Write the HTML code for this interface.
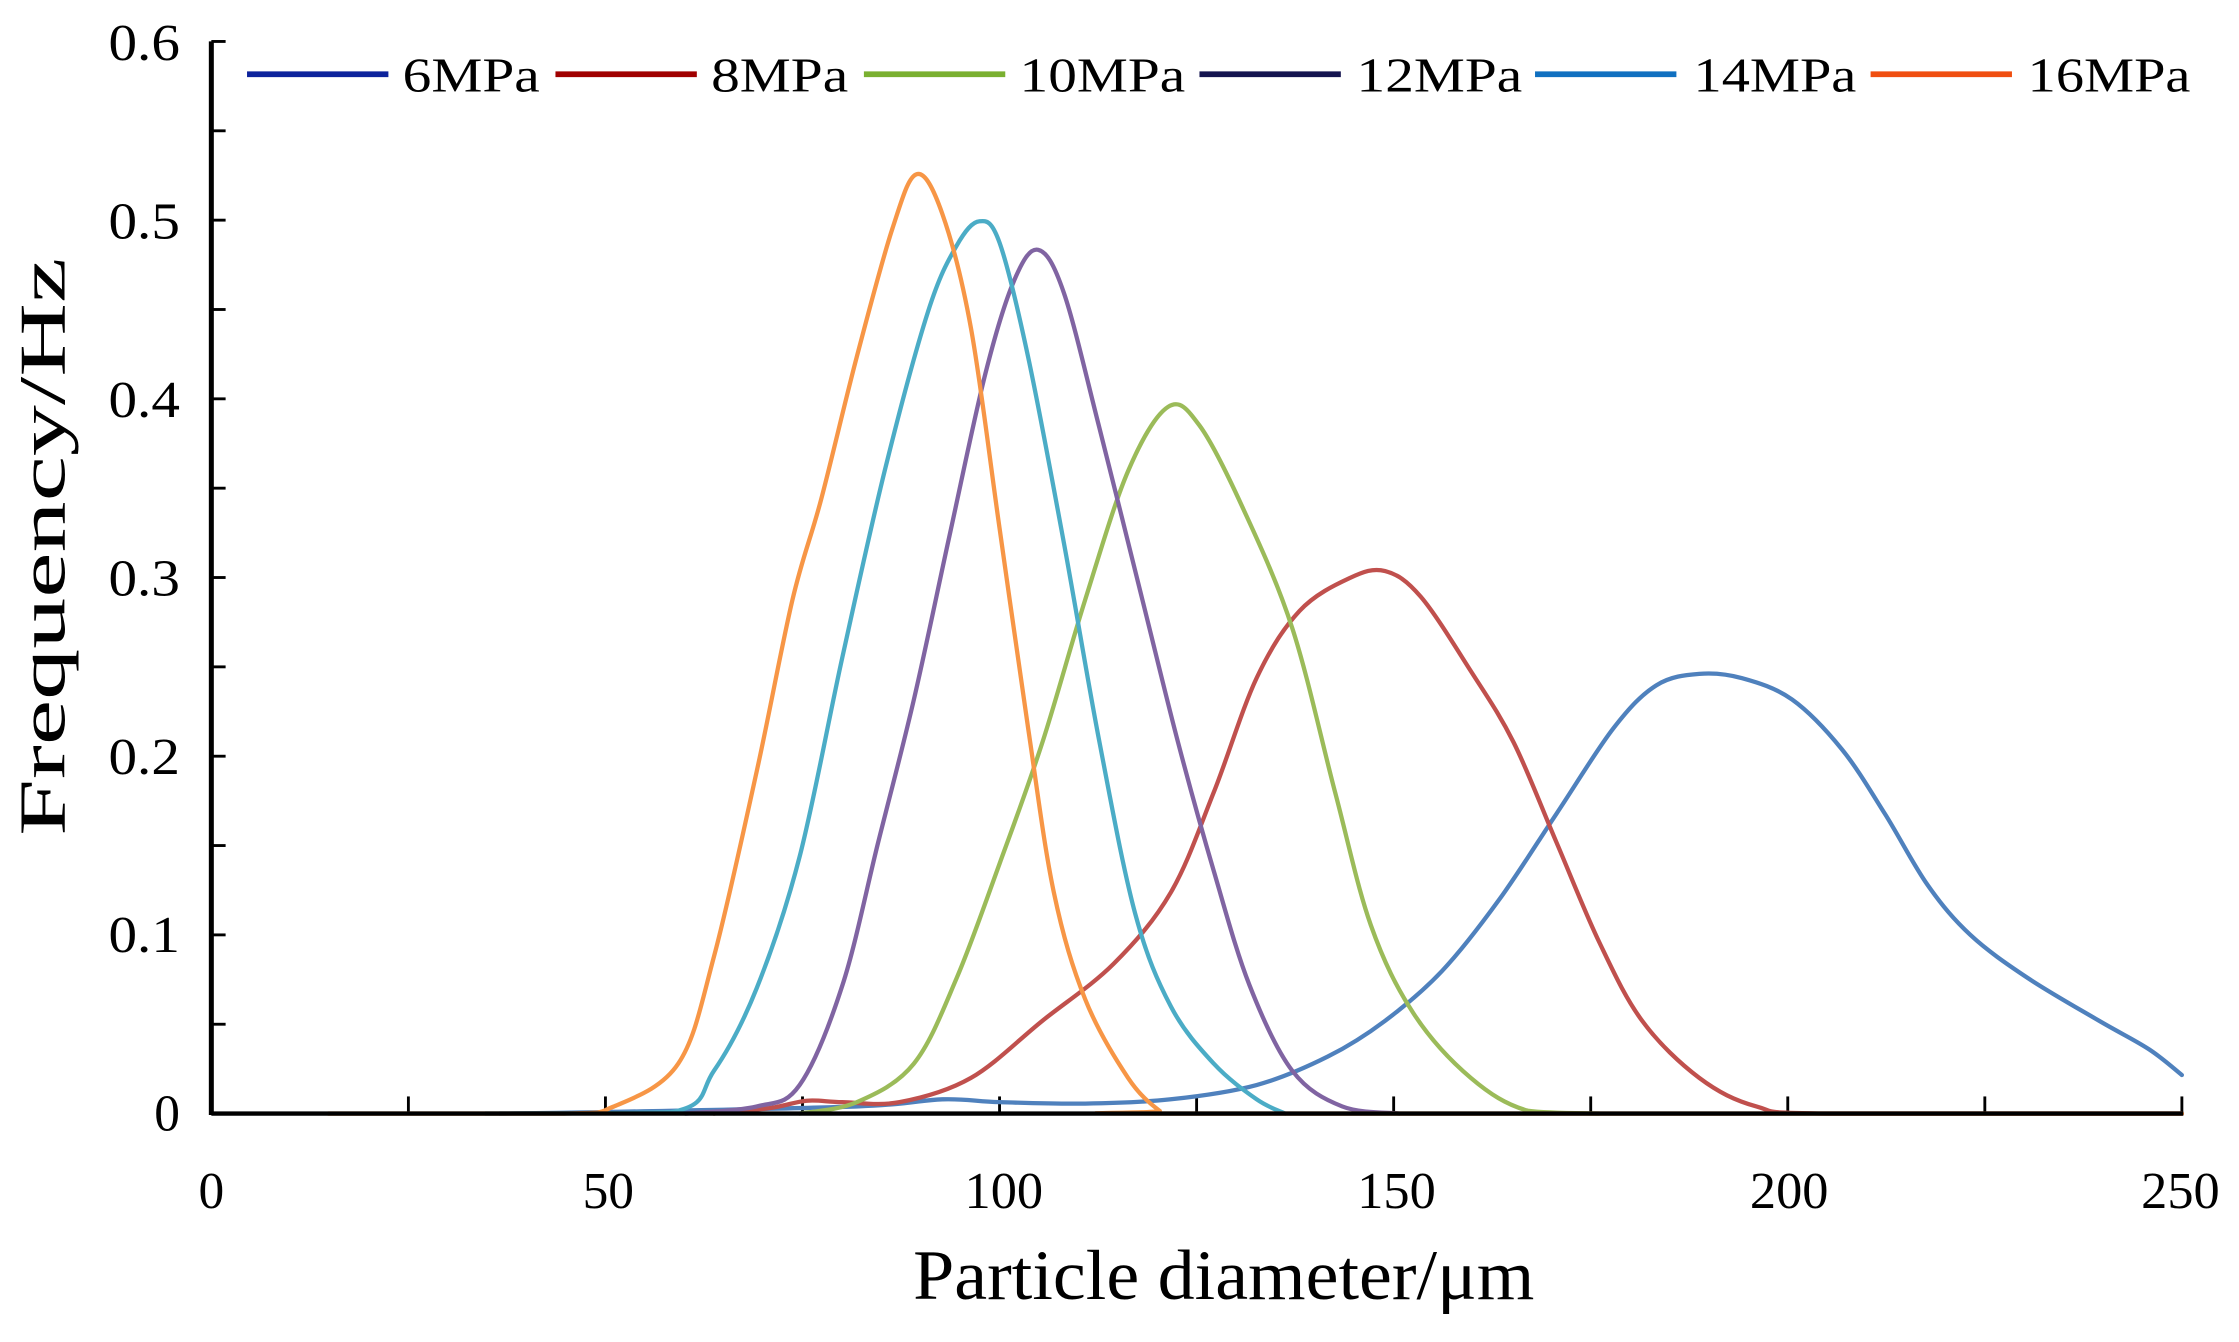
<!DOCTYPE html>
<html><head><meta charset="utf-8"><style>
html,body{margin:0;padding:0;background:#fff;}
svg{display:block;}
text{font-family:"Liberation Serif",serif;fill:#000;}
</style></head><body>
<svg id="s" width="2239" height="1342" viewBox="0 0 1568 940" preserveAspectRatio="none" xmlns="http://www.w3.org/2000/svg">
<g id="ticks" stroke="#000" stroke-width="2"></g>
<g id="curves" fill="none" stroke-width="3" stroke-linejoin="round" stroke-linecap="round"></g>
<line x1="148" y1="780" x2="1529" y2="780" stroke="#000" stroke-width="3"/>
<line x1="148" y1="29" x2="148" y2="781" stroke="#000" stroke-width="3.5"/>
<g font-size="36" text-anchor="end">
<text x="126" y="792">0</text>
<text x="126" y="667" textLength="50" lengthAdjust="spacingAndGlyphs">0.1</text>
<text x="126" y="542" textLength="50" lengthAdjust="spacingAndGlyphs">0.2</text>
<text x="126" y="417" textLength="50" lengthAdjust="spacingAndGlyphs">0.3</text>
<text x="126" y="292" textLength="50" lengthAdjust="spacingAndGlyphs">0.4</text>
<text x="126" y="167" textLength="50" lengthAdjust="spacingAndGlyphs">0.5</text>
<text x="126" y="42" textLength="50" lengthAdjust="spacingAndGlyphs">0.6</text>
</g>
<g font-size="36" text-anchor="middle">
<text x="148" y="846">0</text>
<text x="426" y="846" textLength="36" lengthAdjust="spacingAndGlyphs">50</text>
<text x="703" y="846" textLength="55" lengthAdjust="spacingAndGlyphs">100</text>
<text x="978" y="846" textLength="55" lengthAdjust="spacingAndGlyphs">150</text>
<text x="1253" y="846" textLength="55" lengthAdjust="spacingAndGlyphs">200</text>
<text x="1527" y="846" textLength="55" lengthAdjust="spacingAndGlyphs">250</text>
</g>
<text x="857" y="910" font-size="50" text-anchor="middle" textLength="435" lengthAdjust="spacingAndGlyphs">Particle diameter/μm</text>
<text transform="translate(45,383) rotate(-90)" font-size="46" text-anchor="middle" textLength="405" lengthAdjust="spacingAndGlyphs">Frequency/Hz</text>
<g font-size="34" stroke-width="4">
<line x1="173" y1="52" x2="272" y2="52" stroke="#0d239c"/><text x="282" y="64" textLength="96" lengthAdjust="spacingAndGlyphs">6MPa</text>
<line x1="389" y1="52" x2="488" y2="52" stroke="#a00000"/><text x="498" y="64" textLength="96" lengthAdjust="spacingAndGlyphs">8MPa</text>
<line x1="605" y1="52" x2="704" y2="52" stroke="#7ab030"/><text x="714" y="64" textLength="116" lengthAdjust="spacingAndGlyphs">10MPa</text>
<line x1="840" y1="52" x2="939" y2="52" stroke="#151550"/><text x="950" y="64" textLength="116" lengthAdjust="spacingAndGlyphs">12MPa</text>
<line x1="1075" y1="52" x2="1174" y2="52" stroke="#1070c0"/><text x="1186" y="64" textLength="114" lengthAdjust="spacingAndGlyphs">14MPa</text>
<line x1="1310" y1="52" x2="1409" y2="52" stroke="#f04e10"/><text x="1420" y="64" textLength="114" lengthAdjust="spacingAndGlyphs">16MPa</text>
</g>
</svg>
<script>
var NS="http://www.w3.org/2000/svg";
var tk=document.getElementById("ticks");
function ln(a,b,c,d){var l=document.createElementNS(NS,"line");l.setAttribute("x1",a);l.setAttribute("y1",b);l.setAttribute("x2",c);l.setAttribute("y2",d);tk.appendChild(l);}
for(var i=1;i<=12;i++){var y=780-i*62.58;ln(148,y,158,y);}
for(var i=1;i<=10;i++){var x=148+i*138;ln(x,780,x,768);}
var series=[
["#4f81bd",[350,780,420,779,600,775,660,770,700,772,760,773,820,770,880,760,930,740,970,715,1010,680,1050,630,1090,570,1130,510,1160,480,1190,472,1220,475,1255,490,1290,525,1320,570,1350,620,1380,655,1420,685,1470,715,1505,735,1528,753]],
["#c0504d",[500,780,540,776,565,771,590,772,630,772,680,755,730,715,780,675,820,625,850,555,880,475,910,428,945,405,970,400,995,418,1030,470,1060,520,1090,590,1120,660,1150,715,1190,755,1230,775,1280,780,1528,780]],
["#9bbb59",[560,780,600,772,640,745,670,685,700,605,730,520,760,420,790,330,818,285,840,298,870,355,905,440,935,555,960,648,990,710,1030,755,1070,778,1120,780]],
["#8064a2",[480,780,530,775,560,760,590,690,615,590,640,490,665,375,690,262,710,197,727,175,745,205,770,300,800,420,825,520,850,610,875,690,905,750,940,775,980,780]],
["#4bacc6",[340,780,470,779,500,750,530,692,560,600,590,460,620,328,650,218,670,172,686,155,700,170,720,250,745,380,770,520,795,640,820,705,850,745,880,770,900,780]],
["#f79646",[230,780,395,780,430,775,475,745,500,670,530,540,555,420,575,350,600,250,625,160,642,122,660,150,680,230,700,370,720,510,738,625,760,700,790,755,812,778,822,780,1528,780]]
];
var cg=document.getElementById("curves");
series.forEach(function(s){
 var p=s[1],pts=[];for(var i=0;i<p.length;i+=2)pts.push([p[i],p[i+1]]);
 var d="M"+pts[0][0]+","+pts[0][1];
 for(var i=0;i<pts.length-1;i++){
  var p0=pts[i-1]||pts[i],p1=pts[i],p2=pts[i+1],p3=pts[i+2]||p2;
  var c1=[p1[0]+(p2[0]-p0[0])/6,p1[1]+(p2[1]-p0[1])/6],c2=[p2[0]-(p3[0]-p1[0])/6,p2[1]-(p3[1]-p1[1])/6];
  c1[1]=Math.min(c1[1],780);c2[1]=Math.min(c2[1],780);
  d+=" C"+c1+" "+c2+" "+p2;
 }
 var e=document.createElementNS(NS,"path");e.setAttribute("d",d);e.setAttribute("stroke",s[0]);cg.appendChild(e);
});
</script>
</body></html>
